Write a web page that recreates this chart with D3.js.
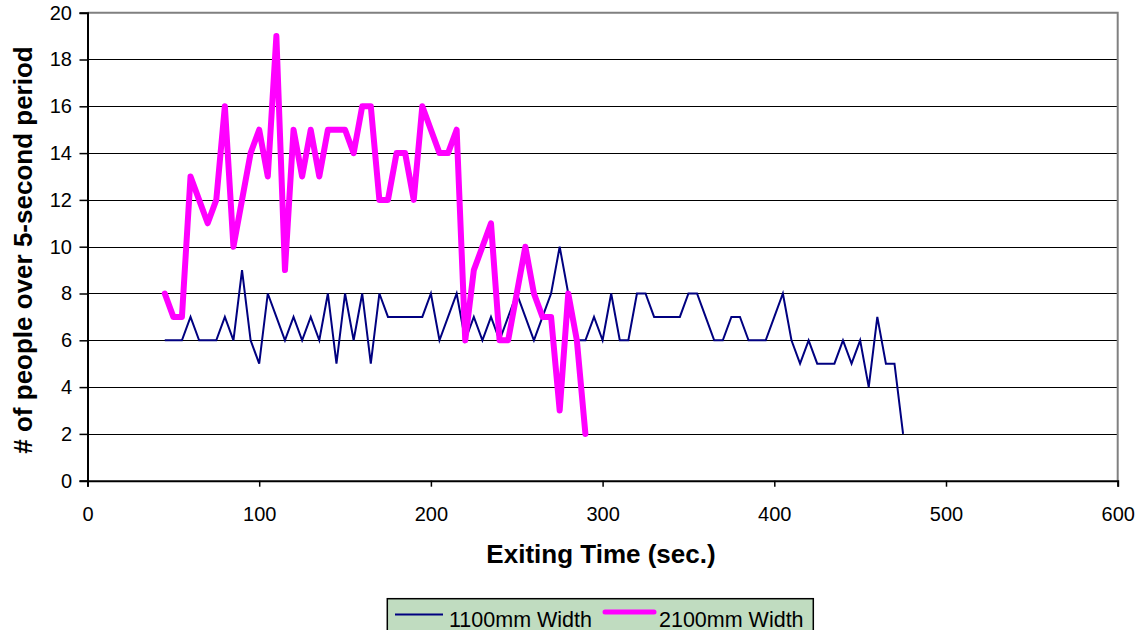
<!DOCTYPE html>
<html><head><meta charset="utf-8">
<script src="https://cdn.jsdelivr.net/npm/d3@7"></script>
<style>body{margin:0;background:#fff}svg{display:block}text{font-family:Arial,"Liberation Sans",sans-serif}</style>
</head><body><svg id="c" width="1140" height="630"></svg>
<script>
const xTicks = [0,100,200,300,400,500,600];
const yTicks = [0,2,4,6,8,10,12,14,16,18,20];
const seriesNames = ["1100mm Width","2100mm Width"];
const timeNarrow = d3.range(45, 476, 5);
const valuesNarrow = [6,6,6,7,6,6,6,7,6,9,6,5,8,7,6,7,6,7,6,8,5,8,6,8,5,8,7,7,7,7,7,8,6,7,8,6,7,6,7,6,7,8,7,6,7,8,10,8,6,6,7,6,8,6,6,8,8,7,7,7,7,8,8,7,6,6,7,7,6,6,6,7,8,6,5,6,5,5,5,6,5,6,4,7,5,5,2];
const timeWide = d3.range(45, 291, 5);
const valuesWide = [8,7,7,13,12,11,12,16,10,12,14,15,13,19,9,15,13,15,13,15,15,15,14,16,16,12,12,14,14,12,16,15,14,14,15,6,9,10,11,6,6,8,10,8,7,7,3,8,6,2];

const svg = d3.select("#c");
const L=87.5, R=1117.7, T=12.7, B=480.7;
const x = d3.scaleLinear().domain([0,600]).range([L,R]);
const y = d3.scaleLinear().domain([0,20]).range([B,T]);

// gridlines
svg.append("g").selectAll("line").data(yTicks.filter(d=>d>0&&d<20)).join("line")
  .attr("x1",L).attr("x2",R).attr("y1",d=>Math.round(y(d))+0.5).attr("y2",d=>Math.round(y(d))+0.5)
  .attr("stroke","#000").attr("stroke-width",1.2);
// plot border top/right gray
svg.append("path").attr("d",`M${L},${T}H${R}V${B}`).attr("fill","none").attr("stroke","#808080").attr("stroke-width",2);

// axes
const yAxis = svg.append("g").attr("transform",`translate(${L},0)`)
  .call(d3.axisLeft(y).tickValues(yTicks).tickSize(8).tickPadding(7.5));
yAxis.select(".domain").attr("stroke","#000").attr("stroke-width",2);
yAxis.selectAll(".tick line").attr("stroke","#000").attr("stroke-width",1.5);
yAxis.selectAll("text").attr("font-size",20).attr("fill","#000");

const xAxis = svg.append("g").attr("transform",`translate(0,${B})`)
  .call(d3.axisBottom(x).tickValues(xTicks).tickSize(6).tickPadding(20));
xAxis.select(".domain").attr("stroke","#000").attr("stroke-width",2);
xAxis.selectAll(".tick line").attr("stroke","#000").attr("stroke-width",1.5);
xAxis.selectAll("text").attr("font-size",20).attr("fill","#000");

// lines
const line = d3.line().x(d=>x(d[0])).y(d=>y(d[1]));
svg.append("path").datum(timeNarrow.map((t,i)=>[t,valuesNarrow[i]]))
  .attr("d",line).attr("fill","none").attr("stroke","#000080").attr("stroke-width",2).attr("stroke-linejoin","miter");
svg.append("path").datum(timeWide.map((t,i)=>[t,valuesWide[i]]))
  .attr("d",line).attr("fill","none").attr("stroke","#ff00ff").attr("stroke-width",6).attr("stroke-linejoin","round").attr("stroke-linecap","round");

// titles
svg.append("text").attr("x",601).attr("y",563).attr("text-anchor","middle")
  .attr("font-size",26).attr("font-weight","bold").text("Exiting Time (sec.)");
svg.append("text").attr("transform","translate(32,250) rotate(-90)").attr("text-anchor","middle")
  .attr("font-size",26).attr("font-weight","bold").text("# of people over 5-second period");

// legend
const lg = svg.append("g");
lg.append("rect").attr("x",387.3).attr("y",598.7).attr("width",426).attr("height",40)
  .attr("fill","#c0dcc0").attr("stroke","#000").attr("stroke-width",1.5);
lg.append("line").attr("x1",395).attr("x2",443).attr("y1",614.5).attr("y2",614.5).attr("stroke","#000080").attr("stroke-width",2);
lg.append("text").attr("x",449).attr("y",626.5).attr("font-size",21.5).text(seriesNames[0]);
lg.append("line").attr("x1",605).attr("x2",654).attr("y1",612).attr("y2",612).attr("stroke","#ff00ff").attr("stroke-width",5).attr("stroke-linecap","round");
lg.append("text").attr("x",659).attr("y",626.5).attr("font-size",21.5).text(seriesNames[1]);
</script></body></html>
